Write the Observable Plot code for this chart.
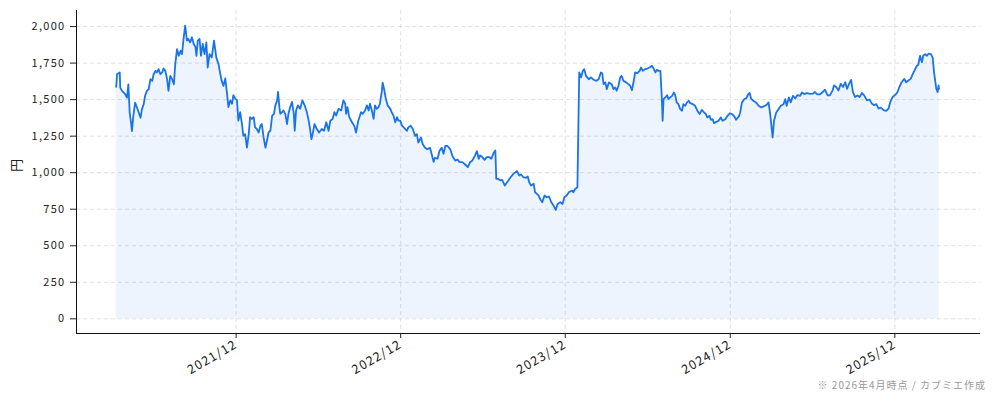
<!DOCTYPE html>
<html><head><meta charset="utf-8">
<script src="https://cdn.jsdelivr.net/npm/d3@7"></script>
<script src="https://cdn.jsdelivr.net/npm/@observablehq/plot@0.6"></script>
<style>
body{margin:0;background:#fff;}
#wrap{position:relative;width:994px;height:401px;}
#cap{position:absolute;right:8px;top:377px;font-family:"Noto Sans CJK JP",sans-serif;font-size:10px;color:#999;letter-spacing:1px;white-space:nowrap;}
g[aria-label="y-axis tick label"] text{letter-spacing:1.3px;}
g[aria-label="x-axis tick label"] text{letter-spacing:1.2px;}
</style></head><body><div id="wrap"><div id="cap">※ 2026年4月時点 / カブミエ作成</div></div>
<script>
const d21 = ["2021-04-09","2021-04-11","2021-04-17","2021-04-18","2021-04-22","2021-04-29","2021-05-03","2021-05-06","2021-05-09","2021-05-12","2021-05-14","2021-05-17","2021-05-21","2021-05-24","2021-06-02","2021-06-05","2021-06-09","2021-06-12","2021-06-16","2021-06-20","2021-06-24","2021-06-28","2021-07-01","2021-07-05","2021-07-08","2021-07-12","2021-07-16","2021-07-20","2021-07-23","2021-07-27","2021-07-31","2021-08-03","2021-08-07","2021-08-11","2021-08-15","2021-08-18","2021-08-22","2021-08-26","2021-08-30","2021-09-02","2021-09-05","2021-09-09","2021-09-13","2021-09-16","2021-09-20","2021-09-24","2021-09-28","2021-10-02","2021-10-04","2021-10-07","2021-10-11","2021-10-14","2021-10-18","2021-10-22","2021-10-26","2021-10-29","2021-11-02","2021-11-07","2021-11-12","2021-11-17","2021-11-22","2021-11-26","2021-11-29","2021-12-03","2021-12-07","2021-12-10","2021-12-14","2021-12-18","2021-12-22","2021-12-25","2021-12-29"];
const p21 = [1587,1674,1686,1582,1560,1537,1514,1605,1410,1342,1284,1387,1479,1456,1376,1433,1468,1525,1560,1571,1640,1628,1674,1697,1686,1709,1674,1686,1713,1697,1640,1560,1663,1640,1605,1743,1846,1800,1835,1812,1904,2007,1904,1915,1892,1927,1881,1858,1800,1904,1915,1800,1881,1812,1892,1720,1812,1789,1904,1789,1743,1674,1628,1594,1645,1565,1449,1495,1472,1530,1507];

const d22 = ["2022-01-02","2022-01-05","2022-01-09","2022-01-13","2022-01-16","2022-01-20","2022-01-24","2022-01-28","2022-01-31","2022-02-04","2022-02-08","2022-02-11","2022-02-15","2022-02-19","2022-02-23","2022-02-26","2022-03-02","2022-03-06","2022-03-10","2022-03-13","2022-03-17","2022-03-21","2022-03-25","2022-03-28","2022-04-01","2022-04-03","2022-04-06","2022-04-08","2022-04-12","2022-04-15","2022-04-19","2022-04-23","2022-04-26","2022-04-30","2022-05-04","2022-05-08","2022-05-10","2022-05-13","2022-05-17","2022-05-22","2022-05-27","2022-06-01","2022-06-06","2022-06-10","2022-06-13","2022-06-16","2022-06-18","2022-06-23","2022-06-28","2022-07-03","2022-07-09","2022-07-14","2022-07-19","2022-07-24","2022-07-28","2022-08-02","2022-08-06","2022-08-10","2022-08-15","2022-08-21","2022-08-26","2022-08-30","2022-09-01","2022-09-04","2022-09-08","2022-09-14","2022-09-19","2022-09-23","2022-09-28","2022-10-04","2022-10-08","2022-10-13","2022-10-17","2022-10-21","2022-10-24","2022-10-28","2022-11-01","2022-11-04","2022-11-08","2022-11-12","2022-11-15","2022-11-19","2022-11-21","2022-11-24","2022-11-28","2022-12-02","2022-12-08","2022-12-11","2022-12-15","2022-12-19","2022-12-23","2022-12-26","2022-12-30"];
const p22 = [1495,1356,1414,1333,1252,1264,1171,1264,1380,1368,1380,1310,1299,1275,1322,1333,1241,1171,1229,1275,1287,1391,1403,1461,1495,1553,1449,1403,1414,1426,1403,1333,1403,1449,1484,1403,1287,1426,1461,1437,1495,1461,1414,1356,1299,1229,1252,1333,1299,1275,1299,1287,1345,1287,1356,1368,1414,1391,1437,1426,1495,1472,1403,1449,1380,1345,1322,1275,1356,1414,1403,1426,1461,1426,1472,1426,1368,1461,1437,1449,1472,1553,1616,1576,1507,1461,1437,1414,1391,1345,1380,1356,1356];

const d23 = ["2023-01-03","2023-01-10","2023-01-14","2023-01-17","2023-01-22","2023-01-27","2023-02-01","2023-02-05","2023-02-08","2023-02-14","2023-02-18","2023-02-23","2023-02-28","2023-03-06","2023-03-10","2023-03-14","2023-03-17","2023-03-23","2023-03-27","2023-04-01","2023-04-05","2023-04-09","2023-04-14","2023-04-20","2023-04-25","2023-05-01","2023-05-06","2023-05-10","2023-05-12","2023-05-17","2023-05-23","2023-05-29","2023-06-03","2023-06-08","2023-06-14","2023-06-18","2023-06-22","2023-06-25","2023-06-30","2023-07-05","2023-07-10","2023-07-15","2023-07-20","2023-07-25","2023-07-29","2023-07-31","2023-08-04","2023-08-09","2023-08-13","2023-08-19","2023-08-24","2023-08-31","2023-09-07","2023-09-15","2023-09-20","2023-09-24","2023-09-29","2023-10-05","2023-10-09","2023-10-12","2023-10-16","2023-10-22","2023-10-25","2023-10-29","2023-11-02","2023-11-05","2023-11-10","2023-11-15","2023-11-20","2023-11-25","2023-11-30","2023-12-05","2023-12-10","2023-12-14","2023-12-20","2023-12-25","2023-12-29"];
const p23 = [1322,1299,1287,1310,1322,1299,1252,1264,1206,1241,1194,1171,1160,1171,1125,1074,1102,1097,1148,1171,1129,1183,1183,1160,1113,1083,1090,1074,1072,1072,1056,1038,1072,1084,1118,1148,1095,1118,1107,1088,1107,1107,1095,1134,1152,958,958,947,951,912,935,965,992,1011,981,988,969,965,974,935,912,924,866,855,844,821,798,844,832,837,798,775,745,786,798,786,832];

const d24 = ["2024-01-03","2024-01-08","2024-01-15","2024-01-18","2024-01-22","2024-01-27","2024-01-31","2024-02-04","2024-02-08","2024-02-11","2024-02-15","2024-02-21","2024-02-26","2024-03-03","2024-03-09","2024-03-14","2024-03-19","2024-03-22","2024-03-25","2024-03-29","2024-04-01","2024-04-06","2024-04-12","2024-04-16","2024-04-20","2024-04-23","2024-04-27","2024-05-01","2024-05-04","2024-05-08","2024-05-14","2024-05-19","2024-05-23","2024-05-27","2024-05-31","2024-06-03","2024-06-08","2024-06-13","2024-06-16","2024-06-20","2024-06-25","2024-06-30","2024-07-05","2024-07-10","2024-07-14","2024-07-18","2024-07-21","2024-07-25","2024-07-29","2024-08-01","2024-08-03","2024-08-05","2024-08-09","2024-08-13","2024-08-16","2024-08-20","2024-08-24","2024-08-28","2024-08-31","2024-09-03","2024-09-07","2024-09-11","2024-09-15","2024-09-18","2024-09-22","2024-09-26","2024-09-30","2024-10-03","2024-10-09","2024-10-14","2024-10-19","2024-10-24","2024-10-29","2024-11-03","2024-11-07","2024-11-10","2024-11-15","2024-11-18","2024-11-22","2024-11-25","2024-11-30","2024-12-05","2024-12-10","2024-12-14","2024-12-20","2024-12-25","2024-12-30"];
const p24 = [844,866,878,866,889,900,1686,1652,1697,1709,1663,1640,1652,1636,1629,1640,1686,1681,1606,1618,1572,1618,1606,1572,1583,1561,1595,1652,1663,1629,1618,1606,1595,1565,1629,1686,1681,1697,1720,1697,1709,1713,1720,1732,1713,1686,1704,1697,1697,1526,1355,1503,1515,1531,1503,1515,1526,1549,1531,1481,1469,1435,1424,1469,1458,1481,1492,1476,1469,1458,1424,1401,1430,1412,1401,1378,1389,1362,1366,1339,1348,1355,1378,1355,1366,1389,1407];

const d25 = ["2025-01-04","2025-01-09","2025-01-13","2025-01-19","2025-01-22","2025-01-26","2025-01-31","2025-02-04","2025-02-09","2025-02-12","2025-02-15","2025-02-20","2025-02-26","2025-03-04","2025-03-09","2025-03-15","2025-03-21","2025-03-26","2025-03-30","2025-04-02","2025-04-04","2025-04-07","2025-04-12","2025-04-17","2025-04-22","2025-04-28","2025-05-02","2025-05-05","2025-05-10","2025-05-14","2025-05-19","2025-05-24","2025-05-29","2025-06-04","2025-06-08","2025-06-13","2025-06-19","2025-06-26","2025-07-02","2025-07-07","2025-07-12","2025-07-18","2025-07-24","2025-07-29","2025-08-04","2025-08-09","2025-08-15","2025-08-18","2025-08-23","2025-08-28","2025-09-02","2025-09-07","2025-09-12","2025-09-16","2025-09-19","2025-09-25","2025-09-29","2025-10-04","2025-10-09","2025-10-14","2025-10-19","2025-10-24","2025-10-30","2025-11-05","2025-11-10","2025-11-15","2025-11-20","2025-11-25","2025-11-30","2025-12-06","2025-12-12","2025-12-17","2025-12-21","2025-12-26"];
const p25 = [1401,1385,1362,1385,1412,1481,1503,1508,1538,1545,1508,1492,1481,1458,1447,1454,1463,1481,1389,1298,1241,1355,1412,1435,1458,1469,1503,1458,1515,1481,1526,1508,1531,1526,1549,1538,1545,1540,1541,1552,1536,1536,1552,1568,1529,1529,1563,1597,1586,1563,1608,1586,1619,1574,1597,1635,1552,1518,1529,1518,1545,1529,1496,1500,1473,1462,1469,1439,1446,1428,1423,1439,1484,1518];

const d26 = ["2026-01-02","2026-01-06","2026-01-10","2026-01-15","2026-01-21","2026-01-25","2026-01-30","2026-02-04","2026-02-09","2026-02-14","2026-02-18","2026-02-21","2026-02-25","2026-03-01","2026-03-04","2026-03-08","2026-03-12","2026-03-16","2026-03-21","2026-03-25","2026-03-28","2026-04-02","2026-04-05","2026-04-07","2026-04-08"];
const p26 = [1536,1552,1586,1619,1642,1619,1631,1642,1676,1709,1732,1739,1800,1755,1800,1811,1800,1815,1811,1788,1687,1574,1552,1597,1574];

const yTicks = [0,250,500,750,1000,1250,1500,1750,2000];
const xTickLabels = ["2021/12","2022/12","2023/12","2024/12","2025/12"];
const xTickDates = ["2021-12-31","2022-12-31","2023-12-31","2024-12-31","2025-12-31"];
const yLabel = "円";

const dates = [].concat(d21,d22,d23,d24,d25,d26);
const prices = [].concat(p21,p22,p23,p24,p25,p26);
const data = dates.map((d,i) => ({date: new Date(d + "T00:00:00Z"), price: prices[i]}));
const xTicks = xTickDates.map(d => new Date(d + "T00:00:00Z"));
const xLabelOf = new Map(xTicks.map((d,i) => [+d, xTickLabels[i]]));

const xDomain = [new Date("2021-01-11T00:00:00Z"), new Date("2026-07-09T00:00:00Z")];
const yDomain = [-100.5, 2110];

const blue = "#1a73e8";
const gridStyle = {stroke:"#c8c8c8", strokeOpacity:0.7, strokeDasharray:"4,3", strokeWidth:0.8};

const chart = Plot.plot({
  width: 994, height: 401,
  marginLeft: 76, marginRight: 14, marginTop: 10, marginBottom: 68,
  style: {fontFamily: '"Noto Sans CJK JP", sans-serif', fontSize: "12px", color: "#222", background: "transparent"},
  x: {type: "utc", domain: xDomain},
  y: {domain: yDomain},
  marks: [
    Plot.gridY(yTicks, gridStyle),
    Plot.gridX(xTicks, gridStyle),
    Plot.areaY(data, {x: "date", y: "price", fill: blue, fillOpacity: 0.08}),
    Plot.lineY(data, {x: "date", y: "price", stroke: blue, strokeWidth: 1.8}),
    Plot.ruleX([xDomain[0]], {stroke: "#111", strokeWidth: 1}),
    Plot.ruleY([yDomain[0]], {stroke: "#111", strokeWidth: 1}),
    Plot.axisY(yTicks, {tickFormat: d3.format(","), tickSize: 6, tickPadding: 5, label: null, fontSize: 11}),
    Plot.axisX(xTicks, {tickFormat: d => xLabelOf.get(+d), tickRotate: -30, tickSize: 5, tickPadding: 5, label: null, fontSize: 12.5}),
    Plot.text([yLabel], {text: d => d, frameAnchor: "left", dx: -60, rotate: -90, fontSize: 13, fill: "#222"})
  ]
});
document.getElementById("wrap").prepend(chart);
</script>
</body></html>
